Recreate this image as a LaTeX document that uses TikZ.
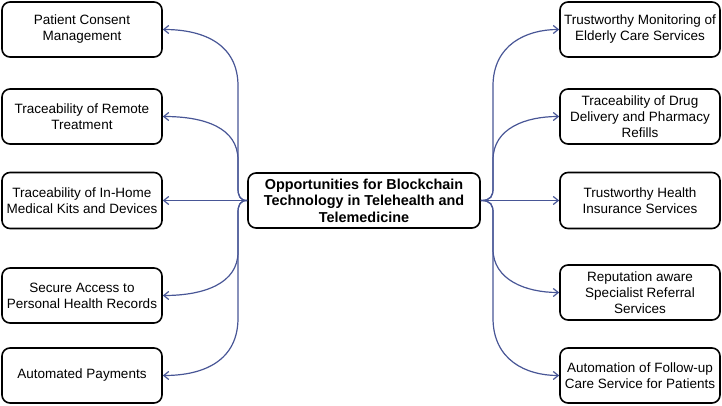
\documentclass[tikz,border=0pt]{standalone}
\usepackage{fontspec}
\setmainfont{Liberation Sans}
\usetikzlibrary{arrows.meta}
\definecolor{connblue}{RGB}{72,86,150}
\tikzset{
  box/.style={draw=black, line width=1.6pt, rounded corners=8pt, fill=white,
    minimum width=160pt, minimum height=55pt, align=center, inner sep=2pt,
    font=\fontsize{13.5}{16}\selectfont},
  mainbox/.style={box, minimum width=232pt, font=\fontsize{14.4}{16.5}\selectfont\bfseries},
  conn/.style={draw=connblue, line width=1.2pt, -{Straight Barb[length=5pt,width=8pt]}},
}
\begin{document}
\begin{tikzpicture}[x=1pt,y=-1pt]
\useasboundingbox (0,0) rectangle (722,406);
\node[mainbox] (c) at (364,200.5) {Opportunities for Blockchain\\Technology in Telehealth and\\Telemedicine};
\node[box] (l1) at (82,29.5) {Patient Consent\\Management};
\node[box] (l2) at (82,116.5) {Traceability of Remote\\Treatment};
\node[box, minimum height=56pt] (l3) at (82,200.5) {Traceability of In-Home\\Medical Kits and Devices};
\node[box] (l4) at (82,295.5) {Secure Access to\\Personal Health Records};
\node[box] (l5) at (82,375.5) {Automated Payments};
\node[box] (r1) at (640,29.5) {Trustworthy Monitoring of\\Elderly Care Services};
\node[box] (r2) at (640,116.5) {Traceability of Drug\\Delivery and Pharmacy\\Refills};
\node[box, minimum height=56pt] (r3) at (640,200.5) {Trustworthy Health\\Insurance Services};
\node[box] (r4) at (640,292.5) {Reputation aware\\Specialist Referral\\Services};
\node[box] (r5) at (640,375.5) {Automation of Follow-up\\Care Service for Patients};
% left connectors
\draw[conn] (c.west) .. controls (240,200.5) and (238,196) .. (238,188) -- (238,86) .. controls (238,45) and (205,29.5) .. (l1.east);
\draw[conn] (c.west) .. controls (240,200.5) and (238,196) .. (238,188) -- (238,160) .. controls (238,128) and (205,116.5) .. (l2.east);
\draw[conn] (c.west) -- (l3.east);
\draw[conn] (c.west) .. controls (240,200.5) and (238,205) .. (238,213) -- (238,252) .. controls (238,283) and (205,295.5) .. (l4.east);
\draw[conn] (c.west) .. controls (240,200.5) and (238,205) .. (238,213) -- (238,318) .. controls (238,360) and (205,375.5) .. (l5.east);
% right connectors
\draw[conn] (c.east) .. controls (491,200.5) and (493,196) .. (493,188) -- (493,86) .. controls (493,45) and (526,29.5) .. (r1.west);
\draw[conn] (c.east) .. controls (491,200.5) and (493,196) .. (493,188) -- (493,160) .. controls (493,128) and (526,116.5) .. (r2.west);
\draw[conn] (c.east) -- (r3.west);
\draw[conn] (c.east) .. controls (491,200.5) and (493,205) .. (493,213) -- (493,249) .. controls (493,280) and (526,292.5) .. (r4.west);
\draw[conn] (c.east) .. controls (491,200.5) and (493,205) .. (493,213) -- (493,318) .. controls (493,360) and (526,375.5) .. (r5.west);
\end{tikzpicture}
\end{document}
